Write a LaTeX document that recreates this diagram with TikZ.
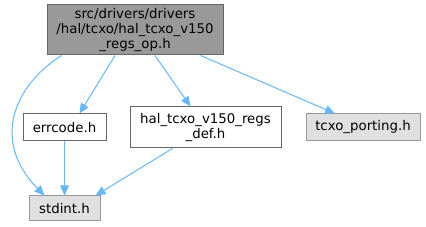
\documentclass[tikz,border=0pt]{standalone}
\usepackage{fontspec}
\setmainfont{DejaVu Sans}
\usepackage{xcolor}
\usepackage{tikz}
\usetikzlibrary{arrows.meta}
\usetikzlibrary{calc}
\definecolor{edgeblue}{HTML}{63B8FF}
\definecolor{boxgray}{HTML}{999999}
\definecolor{boxline}{HTML}{666666}
\definecolor{extgray}{HTML}{E0E0E0}
\definecolor{extline}{HTML}{999999}
\tikzset{
  file/.style={draw=boxline, fill=white, line width=0.75pt, inner sep=0pt,
    align=center, font=\fontsize{10}{11.25}\selectfont},
  mainfile/.style={file, fill=boxgray},
  extfile/.style={file, draw=extline, fill=extgray},
  incl/.style={draw=edgeblue, line width=0.75pt,
    -{Triangle[length=7.5pt, width=6.5pt]}},
}

\begin{document}
\begin{tikzpicture}[x=0.75pt, y=-0.75pt]
\useasboundingbox (0,0) rectangle (426,227);
\node[mainfile, minimum width=132pt, minimum height=37.5pt] (op) at (135,30) {src/drivers/drivers\\/hal/tcxo/hal\_tcxo\_v150\\\_regs\_op.h};
\node[file, minimum width=62.25pt, minimum height=20.25pt] (errcode) at (64.5,127.5) {errcode.h};
\node[file, minimum width=113.25pt, minimum height=30.75pt] (def) at (205.5,127.5) {hal\_tcxo\_v150\_regs\\\_def.h};
\node[extfile, minimum width=85.5pt, minimum height=20.25pt] (porting) at (363,127.5) {tcxo\_porting.h};
\node[extfile, minimum width=53.25pt, minimum height=18.75pt] (stdint) at (64.5,208.5) {stdint.h};
% includes of the main file
\draw[incl] ($(op.south west)+(15,0)$) .. controls (15,85) and (-10,140) .. ($(stdint.north west)+(16,0)$);
\draw[incl] ($(op.south)+(-20,0)$) -- ($(errcode.north)+(15,0)$);
\draw[incl] ($(op.south)+(20,0)$) -- ($(def.north)+(-15,0)$);
\draw[incl] ($(op.south east)+(-23,0)$) -- ($(porting.north)+(-28,0)$);
% includes of the headers
\draw[incl] (errcode.south) -- (stdint.north);
\draw[incl] ($(def.south)+(-33,0)$) -- ($(stdint.north east)+(-5,0)$);
\end{tikzpicture}
\end{document}
